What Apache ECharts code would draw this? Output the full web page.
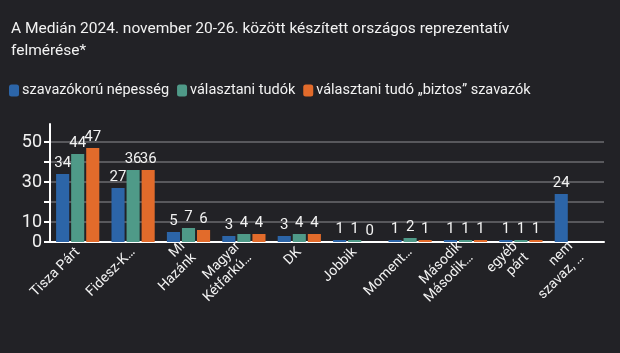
<!DOCTYPE html>
<html>
<head>
<meta charset="utf-8">
<script src="https://cdn.jsdelivr.net/npm/echarts@6/dist/echarts.min.js"></script>
<style>
  html, body { margin: 0; padding: 0; background: #222226; }
  #chart { width: 620px; height: 353px; }
</style>
</head>
<body>
<div id="chart"></div>
<script>
// categories and the three series
const categories = [
  "Tisza Párt", "Fidesz-K…", "Mi\nHazánk", "Magyar\nKétfarkú…", "DK",
  "Jobbik", "Moment…", "Második\nMásodik…", "egyéb\npárt", "nem\nszavaz, …"
];
const seriesNames = ["szavazókorú népesség", "választani tudók", "választani tudó „biztos” szavazók"];
const populationValues = [34, 27, 5, 3, 3, 1, 1, 1, 1, 24];
const decidedValues = [44, 36, 7, 4, 4, 1, 2, 1, 1, null];
const certainValues = [47, 36, 6, 4, 4, 0, 1, 1, 1, null];
const yLabels = [0, 10, 30, 50];

const colors = ["#2c65a8", "#4f9a88", "#e26b2b"];
const font = "Roboto, sans-serif";
const textColor = "#f2f2f2";

const chart = echarts.init(document.getElementById("chart"));

function makeSeries(name, data, color) {
  return {
    name: name,
    type: "bar",
    data: data,
    itemStyle: { color: color },
    barGap: "15%",
    barCategoryGap: "22%",
    label: {
      show: true,
      position: "top",
      distance: 3,
      color: textColor,
      fontFamily: font,
      fontSize: 15
    }
  };
}

chart.setOption({
  backgroundColor: "#222226",
  textStyle: { fontFamily: font },
  title: {
    text: "A Medián 2024. november 20-26. között készített országos reprezentatív\nfelmérése*",
    left: 6,
    top: 13,
    textStyle: { color: textColor, fontFamily: font, fontSize: 15.5, fontWeight: "normal", lineHeight: 22 }
  },
  legend: {
    left: 4,
    top: 78,
    itemWidth: 10,
    itemHeight: 12,
    itemGap: 8,
    icon: "roundRect",
    textStyle: { color: textColor, fontFamily: font, fontSize: 14.5, padding: [0, 0, 0, -2] },
    data: seriesNames
  },
  grid: { left: 50, right: 16, top: 124, bottom: 111 },
  xAxis: {
    type: "category",
    data: categories,
    axisLine: { lineStyle: { color: "#ffffff", width: 2 } },
    axisTick: { alignWithLabel: true, length: 6, lineStyle: { color: "#ffffff", width: 2 } },
    axisLabel: {
      color: textColor,
      fontFamily: font,
      fontSize: 14,
      rotate: 45,
      interval: 0,
      lineHeight: 16,
      margin: 8
    }
  },
  yAxis: {
    type: "value",
    min: 0,
    max: 59,
    interval: 10,
    axisLine: { show: true, lineStyle: { color: "#ffffff", width: 2 } },
    axisTick: { show: true, length: 6, lineStyle: { color: "#ffffff", width: 2 } },
    splitLine: { showMaxLine: false, lineStyle: { color: "#58585c", width: 2 } },
    axisLabel: {
      color: textColor,
      fontFamily: font,
      fontSize: 18,
      margin: 8,
      showMaxLabel: false,
      formatter: v => (yLabels.includes(v) ? String(v) : "")
    }
  },
  series: [
    makeSeries(seriesNames[0], populationValues, colors[0]),
    makeSeries(seriesNames[1], decidedValues, colors[1]),
    makeSeries(seriesNames[2], certainValues, colors[2])
  ]
});
</script>
</body>
</html>
